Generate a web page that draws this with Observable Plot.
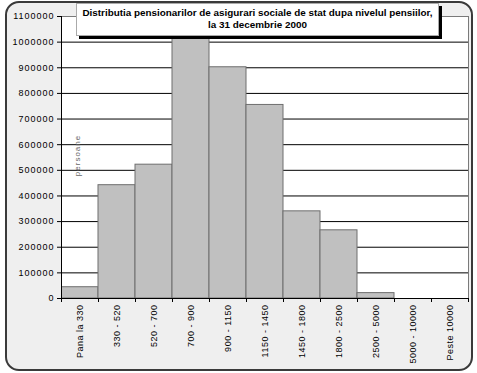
<!DOCTYPE html>
<html>
<head>
<meta charset="utf-8">
<script src="https://cdn.jsdelivr.net/npm/d3@7"></script>
<script src="https://cdn.jsdelivr.net/npm/@observablehq/plot@0.6"></script>
<style>
  html, body { margin: 0; padding: 0; background: #fff; }
  #wrap { position: relative; width: 477px; height: 373px; overflow: hidden; }
  #bg { position: absolute; left: 5px; top: 1px; width: 464px; height: 366px;
        border: 2px solid #3a3a3a; border-radius: 14px; background: #efefef; }
  #chart { position: absolute; left: 0; top: 0; }
  #title { position: absolute; left: 76px; top: 3px; width: 361px; height: 28px;
           background: #fff; border: 1px solid #aaa; box-shadow: 3px 3px 0 #000;
           font-family: "Liberation Sans", Arial, sans-serif; font-weight: bold;
           font-size: 9.9px; text-align: center; line-height: 12px; padding-top: 3px;
           white-space: nowrap; box-sizing: content-box; color: #000; }
</style>
</head>
<body>
<div id="wrap">
  <div id="bg"></div>
  <div id="chart"></div>
  <div id="title">Distributia pensionarilor de asigurari sociale de stat dupa nivelul pensiilor,<br>la 31 decembrie 2000</div>
</div>
<script>
const categories = ["Pana la 330", "330 - 520", "520 - 700", "700 - 900", "900 - 1150",
  "1150 - 1450", "1450 - 1800", "1800 - 2500", "2500 - 5000", "5000 - 10000", "Peste 10000"];
const persons = [44000, 442000, 522000, 1025000, 902000, 755000, 340000, 266000, 21000, 0, 0];
const yTicks = [0, 100000, 200000, 300000, 400000, 500000, 600000, 700000, 800000, 900000, 1000000, 1100000];
const yLabel = "persoane";

const data = categories.map((c, i) => ({cat: c, i, value: persons[i]}));
const edges = categories.map((_, i) => i).concat([categories.length]);
const centers = categories.map((_, i) => i + 0.5);

const chart = Plot.plot({
  width: 477,
  height: 373,
  marginLeft: 61,
  marginRight: 9,
  marginTop: 16,
  marginBottom: 75,
  style: {fontFamily: "Liberation Sans, Arial, sans-serif", fontSize: "9px", letterSpacing: "1px", background: "transparent", color: "#000"},
  x: {domain: [0, categories.length], axis: null},
  y: {domain: [0, 1100000], axis: null},
  marks: [
    Plot.frame({fill: "white", stroke: "#7a7a7a"}),
    Plot.gridY(yTicks.filter(d => d > 0 && d < 1100000), {stroke: "#000", strokeOpacity: 1}),
    Plot.rectY(data, {x1: "i", x2: d => d.i + 1, y: "value", fill: "#c0c0c0", stroke: "#6e6e6e", clip: true}),
    Plot.ruleX([0], {stroke: "#000"}),
    Plot.ruleY([0], {stroke: "#000"}),
    Plot.axisY(yTicks, {tickSize: 4, tickPadding: 3, tickFormat: d3.format("d"), stroke: "#000", fill: "#000", label: null}),
    Plot.axisX(edges, {tickSize: 4, tickFormat: () => "", stroke: "#000", label: null}),
    Plot.axisX(centers, {tickSize: 0, tickPadding: 6, tickRotate: -90, tickFormat: d => categories[Math.floor(d)], fill: "#000", label: null}),
    Plot.text([yLabel], {frameAnchor: "left", dx: 16, dy: -2, rotate: -90, textAnchor: "middle", fill: "#666", fontSize: 8})
  ]
});
chart.querySelectorAll("text").forEach(t => {
  if (categories.includes(t.textContent)) t.style.letterSpacing = "0.5px";
});
document.getElementById("chart").appendChild(chart);
</script>
</body>
</html>
